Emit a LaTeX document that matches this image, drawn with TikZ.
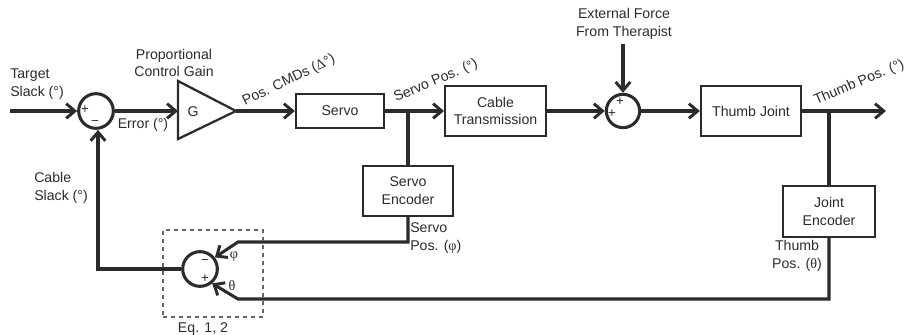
\documentclass[tikz,border=0pt]{standalone}
\usepackage{fontspec}
\setmainfont{Liberation Sans}
\newfontfamily\symfont{Liberation Serif}
\usetikzlibrary{arrows.meta,positioning}
\definecolor{ink}{gray}{0.17}
\tikzset{
  wire/.style={draw=ink,line width=2.3pt,line join=miter},
  arrowed/.style={wire,-{Straight Barb[length=6.5pt,width=11pt,line width=2.2pt]}},
  blockbox/.style={draw=ink,line width=1.7pt,fill=white,align=center,inner sep=0pt,text=ink},
  sumnode/.style={circle,draw=ink,line width=2.3pt,fill=white,minimum size=26pt,inner sep=0pt},
  lab/.style={text=ink,align=center,inner sep=0pt,font=\fontsize{10.6pt}{13.4pt}\selectfont},
  sign/.style={text=ink,inner sep=0pt,font=\fontsize{10pt}{10pt}\selectfont},
}
\begin{document}
\begin{tikzpicture}[x=0.75pt,y=-0.75pt,every node/.append style={font=\fontsize{10.6pt}{13.4pt}\selectfont}]
\useasboundingbox (0,0) rectangle (907,335);
% blocks
\node[sumnode] (s1) at (96,111) {};
\node[sumnode] (s2) at (200,269) {};
\node[sumnode,minimum size=25pt] (s3) at (623,111) {};
\node[blockbox,minimum width=66pt,minimum height=26pt] (servo) at (340,111) {Servo};
\node[blockbox,minimum width=75.5pt,minimum height=38pt] (cable) at (495.5,111) {Cable\\Transmission};
\node[blockbox,minimum width=75pt,minimum height=37pt] (thumb) at (751,111) {Thumb Joint};
\node[blockbox,minimum width=67.5pt,minimum height=37.5pt] (senc) at (408,191) {Servo\\Encoder};
\node[blockbox,minimum width=69pt,minimum height=38pt] (jenc) at (829,211.5) {Joint\\Encoder};
% gain triangle
\coordinate (gl) at (178,111);
\coordinate (gr) at (236,111);
\draw[draw=ink,line width=1.7pt,line join=miter] (178,81) -- (gr) -- (178,139) -- cycle;
\node[lab] (g) at (193,112) {G};
% free ends and junctions
\coordinate (in) at (10,111);
\coordinate (out) at (886,111);
\coordinate (force) at (623,44);
\coordinate (j1) at (408,111);
\coordinate (j2) at (829,111);
\coordinate (c1) at (408,242);
\coordinate (c2) at (238,242);
\coordinate (c3) at (829,299);
\coordinate (c4) at (238,299);
\coordinate (c5) at (98,269);
% forward path
\draw[arrowed] (in) -- (s1);
\draw[arrowed] (s1) -- (gl);
\draw[arrowed] (gr) -- (servo);
\draw[arrowed] (servo) -- (cable);
\draw[arrowed] (cable) -- (s3);
\draw[arrowed] (s3) -- (thumb);
\draw[arrowed] (thumb) -- (out);
\draw[arrowed] (force) -- (s3);
% feedback
\draw[wire] (j1) -- (senc);
\draw[wire] (j2) -- (jenc);
\draw[arrowed] (senc.south) -- (c1) -- (c2) -- (s2.38);
\draw[arrowed] (jenc.south) -- (c3) -- (c4) -- (s2.-50);
\draw[arrowed] (s2.west) -- (c5) -- (s1.south -| c5);
% dashed frame
\node[draw=black!60,line width=0.9pt,dashed,minimum width=75pt,minimum height=65.25pt,inner sep=0pt] (eq) at (213,273.5) {};
% signs
\node[sign] (p1) at (85,110) {+};
\node[sign] (m1) at (95,123) {−};
\node[sign] (m2) at (205,262) {−};
\node[sign] (p2) at (205,279) {+};
\node[sign] (p3) at (620,102) {+};
\node[sign] (p4) at (612,114) {+};
% labels
\node[lab,align=left,anchor=west] (t1) at (10,84) {Target\\Slack (°)};
\node[lab] (t2) at (174,63) {Proportional\\Control Gain};
\node[lab] (t3) at (143,125) {Error (°)};
\node[lab,align=left,anchor=west] (t4) at (34,188) {Cable\\Slack (°)};
\node[lab] (t5) at (624,24) {External Force\\From Therapist};
\node[lab,rotate=26,anchor=base west] (t6) at (245,106) {Pos. CMDs ({\symfont Δ}°)};
\node[lab,rotate=23,anchor=base west] (t7) at (396,102) {Servo Pos. (°)};
\node[lab,rotate=23,anchor=base west] (t8) at (816,105) {Thumb Pos. (°)};
\node[lab,align=left,anchor=west] (t9) at (410,238) {Servo\\Pos. ({\symfont φ})};
\node[lab] (t10) at (797,256) {Thumb\\Pos. ({\symfont θ})};
\node[lab] (t11) at (234,257) {\symfont φ};
\node[lab] (t12) at (232,286) {\symfont θ};
\node[lab] (t13) at (203,329) {Eq. 1, 2};
\end{tikzpicture}
\end{document}
